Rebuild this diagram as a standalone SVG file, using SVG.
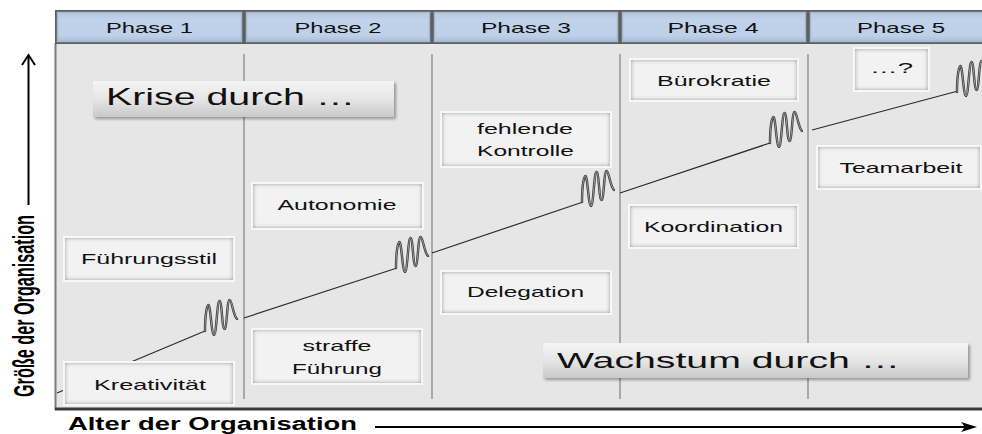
<svg xmlns="http://www.w3.org/2000/svg" xmlns:xlink="http://www.w3.org/1999/xlink" width="982" height="434" viewBox="0 0 982 434">
  <style>
    .lbl { font-family: "Liberation Sans", Arial, sans-serif; font-size: 15px; fill: #111; text-anchor: middle; }
    .phase { font-family: "Liberation Sans", Arial, sans-serif; font-size: 15px; fill: #111; text-anchor: middle; }
    .big { font-family: "Liberation Sans", Arial, sans-serif; fill: #111; }
    .axis { font-family: "Liberation Sans", Arial, sans-serif; font-weight: bold; fill: #000; }
    .halo { fill: #f7f7f7; }
    .box { fill: #f2f2f2; filter: url(#inset); }
    .banner { fill: url(#bannerFill); filter: url(#shadow); }
    .cell { fill: url(#cellFill); stroke: #a3b7d1; stroke-width: 1.5; }
    .divider { stroke: #8e8e8e; stroke-width: 1.4; }
    .growth { stroke: #2a2a2a; stroke-width: 1.2; fill: none; }
    .coil-out { stroke: #333; stroke-width: 2.4; fill: none; stroke-linecap: round; stroke-linejoin: round; }
    .coil-in { stroke: #b8b8b8; stroke-width: 0.8; fill: none; stroke-linecap: round; stroke-linejoin: round; }
  </style>
  <defs>
    <filter id="inset" x="-5%" y="-10%" width="110%" height="120%">
      <feFlood flood-color="#8a8a8a"/>
      <feComposite in2="SourceAlpha" operator="out"/>
      <feGaussianBlur stdDeviation="2.2"/>
      <feComposite in2="SourceAlpha" operator="in" result="sh"/>
      <feMerge>
        <feMergeNode in="SourceGraphic"/>
        <feMergeNode in="sh"/>
      </feMerge>
    </filter>
    <filter id="shadow" x="-5%" y="-20%" width="110%" height="150%">
      <feGaussianBlur in="SourceAlpha" stdDeviation="1.8"/>
      <feOffset dx="1.5" dy="2" result="b"/>
      <feFlood flood-color="#000" flood-opacity="0.35"/>
      <feComposite in2="b" operator="in"/>
      <feMerge>
        <feMergeNode/>
        <feMergeNode in="SourceGraphic"/>
      </feMerge>
    </filter>
    <linearGradient id="bannerFill" x1="0" y1="0" x2="0" y2="1">
      <stop offset="0" stop-color="#f4f4f4"/>
      <stop offset="0.5" stop-color="#e6e6e6"/>
      <stop offset="1" stop-color="#c9c9c9"/>
    </linearGradient>
    <linearGradient id="cellFill" x1="0" y1="0" x2="0" y2="1">
      <stop offset="0" stop-color="#b3c7e0"/>
      <stop offset="0.25" stop-color="#c1d3ea"/>
      <stop offset="0.8" stop-color="#bdd0e8"/>
      <stop offset="1" stop-color="#a9bed9"/>
    </linearGradient>
    <!-- one coil of the growth curve, drawn from its left end -->
    <path id="coilPath" d="M0,0 C0,-17 2,-26 3.5,-26 C5.5,-26 6.5,4 9,4 C11.5,4 12,-30 14.5,-30 C17,-30 17,-2 19.5,-2 C22,-2 22,-31 24.5,-31 C27,-31 28,-16 32,-12"/>
    <g id="coil">
      <use xlink:href="#coilPath" class="coil-out"/>
      <use xlink:href="#coilPath" class="coil-in"/>
    </g>
  </defs>

  <rect width="982" height="434" fill="#fff"/>

  <!-- chart panel -->
  <g id="panel">
    <rect x="55" y="43" width="927" height="366" fill="#e6e6e6"/>
    <line x1="55.5" y1="43" x2="55.5" y2="410" stroke="#7a7a7a" stroke-width="2"/>
    <line x1="55" y1="409" x2="982" y2="409" stroke="#3a3a3a" stroke-width="3"/>
    <line class="divider" x1="244" y1="54" x2="244" y2="399"/>
    <line class="divider" x1="432" y1="54" x2="432" y2="399"/>
    <line class="divider" x1="620" y1="54" x2="620" y2="399"/>
    <line class="divider" x1="808" y1="54" x2="808" y2="399"/>
  </g>

  <!-- phase header -->
  <g id="header">
    <rect x="55" y="10" width="927" height="34" fill="#5e5e5e"/>
    <g id="phase1"><rect class="cell" x="57.5" y="12.5" width="184" height="29"/><text class="phase" x="149.5" y="33" textLength="87" lengthAdjust="spacingAndGlyphs">Phase 1</text></g>
    <g id="phase2"><rect class="cell" x="246.5" y="12.5" width="183" height="29"/><text class="phase" x="338" y="33" textLength="87" lengthAdjust="spacingAndGlyphs">Phase 2</text></g>
    <g id="phase3"><rect class="cell" x="434.5" y="12.5" width="183" height="29"/><text class="phase" x="526" y="33" textLength="90" lengthAdjust="spacingAndGlyphs">Phase 3</text></g>
    <g id="phase4"><rect class="cell" x="622.5" y="12.5" width="183" height="29"/><text class="phase" x="713" y="33" textLength="91" lengthAdjust="spacingAndGlyphs">Phase 4</text></g>
    <g id="phase5"><rect class="cell" x="810.5" y="12.5" width="174" height="29"/><text class="phase" x="901" y="33" textLength="88" lengthAdjust="spacingAndGlyphs">Phase 5</text></g>
  </g>

  <!-- growth curve: straight runs broken by coils at each crisis -->
  <g id="connectors">
    <line class="growth" x1="57" y1="393" x2="205" y2="331"/>
    <line class="growth" x1="244" y1="318" x2="397" y2="268"/>
    <line class="growth" x1="432" y1="253" x2="583" y2="202"/>
    <line class="growth" x1="620" y1="193" x2="770" y2="143"/>
    <line class="growth" x1="812" y1="130" x2="958" y2="91"/>
    <use xlink:href="#coil" x="205" y="331"/>
    <use xlink:href="#coil" x="396" y="268"/>
    <use xlink:href="#coil" x="582" y="202"/>
    <use xlink:href="#coil" x="770" y="143"/>
    <use xlink:href="#coil" x="957" y="92"/>
  </g>

  <!-- crisis / growth boxes -->
  <g id="fuehrungsstil">
    <rect class="halo" x="63" y="236" width="172" height="46"/>
    <rect class="box" x="65" y="238" width="168" height="42"/>
    <text class="lbl" x="149" y="264" textLength="136" lengthAdjust="spacingAndGlyphs">Führungsstil</text>
  </g>
  <g id="kreativitaet">
    <rect class="halo" x="63" y="361" width="172" height="45"/>
    <rect class="box" x="65" y="363" width="168" height="41"/>
    <text class="lbl" x="150" y="390" textLength="112" lengthAdjust="spacingAndGlyphs">Kreativität</text>
  </g>
  <g id="autonomie">
    <rect class="halo" x="251" y="182" width="173" height="48"/>
    <rect class="box" x="253" y="184" width="169" height="44"/>
    <text class="lbl" x="337" y="210" textLength="119" lengthAdjust="spacingAndGlyphs">Autonomie</text>
  </g>
  <g id="straffe-fuehrung">
    <rect class="halo" x="251" y="328" width="172" height="57"/>
    <rect class="box" x="253" y="330" width="168" height="53"/>
    <text class="lbl" x="337" y="351" textLength="69" lengthAdjust="spacingAndGlyphs">straffe</text>
    <text class="lbl" x="337" y="374" textLength="90" lengthAdjust="spacingAndGlyphs">Führung</text>
  </g>
  <g id="fehlende-kontrolle">
    <rect class="halo" x="440" y="111" width="172" height="57"/>
    <rect class="box" x="442" y="113" width="168" height="53"/>
    <text class="lbl" x="525" y="134" textLength="96" lengthAdjust="spacingAndGlyphs">fehlende</text>
    <text class="lbl" x="525.5" y="156" textLength="97" lengthAdjust="spacingAndGlyphs">Kontrolle</text>
  </g>
  <g id="delegation">
    <rect class="halo" x="440" y="270" width="172" height="45"/>
    <rect class="box" x="442" y="272" width="168" height="41"/>
    <text class="lbl" x="525.5" y="297" textLength="117" lengthAdjust="spacingAndGlyphs">Delegation</text>
  </g>
  <g id="buerokratie">
    <rect class="halo" x="629" y="58" width="170" height="44"/>
    <rect class="box" x="631" y="60" width="166" height="40"/>
    <text class="lbl" x="714" y="86" textLength="114" lengthAdjust="spacingAndGlyphs">Bürokratie</text>
  </g>
  <g id="koordination">
    <rect class="halo" x="628" y="204" width="171" height="45"/>
    <rect class="box" x="630" y="206" width="167" height="41"/>
    <text class="lbl" x="713.5" y="232" textLength="139" lengthAdjust="spacingAndGlyphs">Koordination</text>
  </g>
  <g id="unbekannt">
    <rect class="halo" x="853" y="47" width="77" height="45"/>
    <rect class="box" x="855" y="49" width="73" height="41"/>
    <text class="lbl" x="891.5" y="73" textLength="43" lengthAdjust="spacingAndGlyphs">…?</text>
  </g>
  <g id="teamarbeit">
    <rect class="halo" x="816" y="145" width="166" height="45"/>
    <rect class="box" x="818" y="147" width="162" height="41"/>
    <text class="lbl" x="901" y="173" textLength="123" lengthAdjust="spacingAndGlyphs">Teamarbeit</text>
  </g>

  <!-- headline banners -->
  <g id="krise-durch">
    <rect class="banner" x="93" y="81" width="301" height="36"/>
    <text class="big" x="106" y="105" font-size="24" textLength="249" lengthAdjust="spacingAndGlyphs">Krise durch …</text>
  </g>
  <g id="wachstum-durch">
    <rect class="banner" x="543" y="343" width="425" height="35"/>
    <text class="big" x="557" y="368" font-size="22" textLength="343" lengthAdjust="spacingAndGlyphs">Wachstum durch …</text>
  </g>

  <!-- axes -->
  <g id="axes">
    <line x1="28.5" y1="57" x2="28.5" y2="205" stroke="#000" stroke-width="2"/>
    <path d="M22,65 L28.5,55 L35,65" fill="none" stroke="#000" stroke-width="2"/>
    <text class="axis" font-size="18" textLength="182" lengthAdjust="spacingAndGlyphs" transform="translate(34,397) scale(1.65,1) rotate(-90)">Größe der Organisation</text>
    <text class="axis" x="68" y="430" font-size="18" textLength="289" lengthAdjust="spacingAndGlyphs">Alter der Organisation</text>
    <line x1="375" y1="427" x2="970" y2="427" stroke="#000" stroke-width="2"/>
    <path d="M961,422 L977,427 L961,432 L965,427 Z" fill="#000"/>
  </g>
</svg>
